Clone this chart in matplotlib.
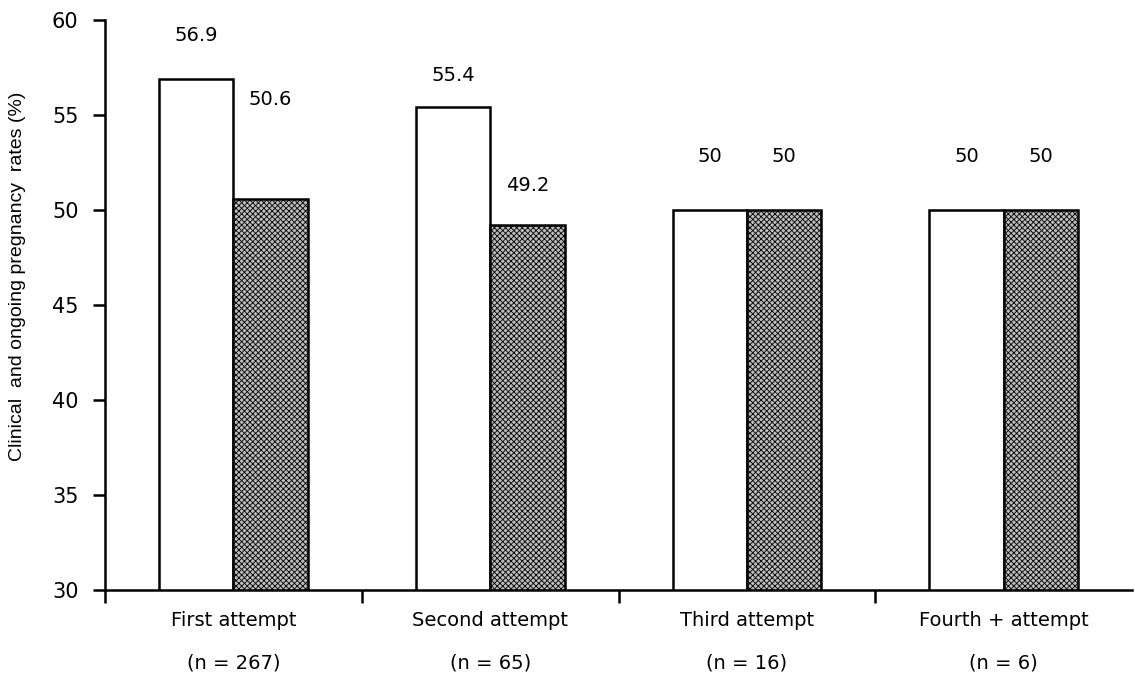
import matplotlib
matplotlib.use('Agg')
import matplotlib.pyplot as plt
import numpy as np

groups = ['First attempt', 'Second attempt', 'Third attempt', 'Fourth + attempt']
n_counts = ['(n = 267)', '(n = 65)', '(n = 16)', '(n = 6)']
clinical = [56.9, 55.4, 50, 50]
ongoing = [50.6, 49.2, 50, 50]
clinical_txt = ['56.9', '55.4', '50', '50']
ongoing_txt = ['50.6', '49.2', '50', '50']

plt.rcParams['font.family'] = ['DejaVu Sans']
plt.rcParams['hatch.linewidth'] = 0.6
plt.rcParams['hatch.color'] = '#333333'

fig = plt.figure(figsize=(11.35, 6.79), dpi=100)
ax = fig.add_axes([0.0925, 0.131, 0.905, 0.8395])

x = np.arange(len(groups)) + 0.5
w = 0.29
b1 = ax.bar(x - w / 2, np.array(clinical) - 30, w, bottom=30, color='white',
            edgecolor='black', linewidth=1.8, zorder=3)
b2 = ax.bar(x + w / 2, np.array(ongoing) - 30, w, bottom=30, color='#bcbcbc',
            edgecolor='black', linewidth=1.8, hatch='xxxxxx', zorder=3)

# label heights above bars differ in the original
off1 = [2.3, 1.7, 2.8, 2.8]
off2 = [5.2, 2.1, 2.8, 2.8]
for i in range(len(groups)):
    ax.text(x[i] - w / 2, clinical[i] + off1[i], clinical_txt[i], ha='center', va='center', fontsize=14)
    ax.text(x[i] + w / 2, ongoing[i] + off2[i], ongoing_txt[i], ha='center', va='center', fontsize=14)

ax.set_xlim(0, 4)
ax.set_ylim(30, 60)
ax.set_yticks(range(30, 61, 5))
ax.set_yticklabels([str(v) for v in range(30, 61, 5)], fontsize=15)
ax.set_xticks([0, 1, 2, 3])
ax.set_xticklabels([])
ax.set_xticks(x, minor=True)
ax.set_xticklabels([g + '\n\n' + n for g, n in zip(groups, n_counts)], minor=True,
                   fontsize=14, linespacing=1.15)
ax.tick_params(axis='x', which='minor', length=0, pad=15)
ax.tick_params(axis='x', which='major', direction='out', length=9, width=1.8)
ax.tick_params(axis='y', direction='out', length=9, width=1.8, pad=10)
ax.set_ylabel('Clinical  and ongoing pregnancy  rates (%)', fontsize=14,
              family='Liberation Sans')
ax.yaxis.set_label_coords(-0.077, 0.55)
ax.spines['top'].set_visible(False)
ax.spines['right'].set_visible(False)
ax.spines['left'].set_linewidth(1.8)
ax.spines['bottom'].set_linewidth(1.8)

plt.savefig('out.png')
